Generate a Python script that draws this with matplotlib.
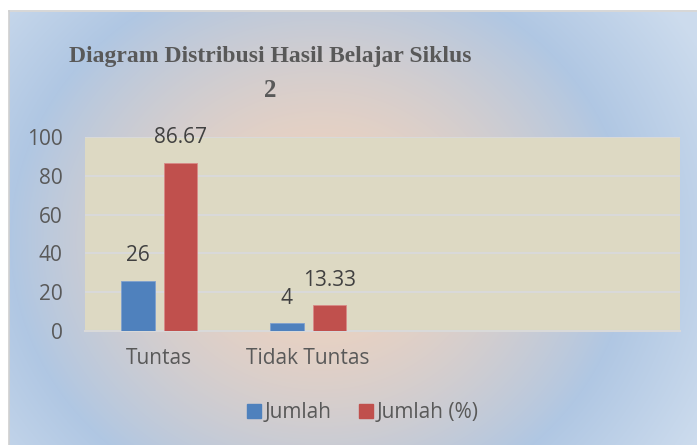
import numpy as np
import matplotlib.pyplot as plt

categories = ["Tuntas", "Tidak Tuntas", "", ""]
jumlah = [26, 4, None, None]
jumlah_pct = [86.67, 13.33, None, None]
y_ticks = [0, 20, 40, 60, 80, 100]

W, H = 697, 445
fig = plt.figure(figsize=(W / 100, H / 100), dpi=100)
fig.patch.set_facecolor("white")

# background: radial gradient from peach centre to blue edges
bg = fig.add_axes([9 / W, 0, 1 - 9 / W, 1 - 12 / H])
bg.set_axis_off()
yy, xx = np.mgrid[12:445, 9:697]
cx, cy, rx, ry = 320, 240, 310, 280
t = np.sqrt(((xx - cx) / rx) ** 2 + ((yy - cy) / ry) ** 2)[..., None]
m = np.clip(t, 0, 1) ** 1.6
peach = np.array([0.95, 0.83, 0.74])
blue = np.array([0.69, 0.78, 0.89])
pale = np.array([0.80, 0.86, 0.93])
img = np.where(t <= 1, peach * (1 - m) + blue * m,
               blue + (pale - blue) * np.clip((t - 1) / 0.4, 0, 1))
bg.imshow(img, aspect="auto", extent=[0, 1, 0, 1], origin="upper")
fig.add_artist(plt.Line2D([9 / W, 9 / W], [0, 1 - 11 / H], color="#D0D0D0", lw=1.2))
fig.add_artist(plt.Line2D([9 / W, 1], [1 - 11 / H, 1 - 11 / H], color="#D0D0D0", lw=1.2))

ax = fig.add_axes([85 / W, 1 - 331 / H, (680 - 85) / W, (331 - 137) / H])
ax.set_facecolor("#DDD9C3")
x = np.arange(len(categories))
w = 0.225
off = 0.1425
fs = 15
for i in range(len(categories)):
    if jumlah[i] is not None:
        ax.bar(x[i] - off, jumlah[i], w, color="#4F81BD", edgecolor="#7FA1CF", lw=0.6, zorder=3)
        ax.annotate(f"{jumlah[i]:g}", (x[i] - off, jumlah[i]), xytext=(0, 18),
                    textcoords="offset points", ha="center", va="center",
                    fontsize=fs, color="#404040", family="Open Sans")
    if jumlah_pct[i] is not None:
        ax.bar(x[i] + off, jumlah_pct[i], w, color="#C0504D", edgecolor="#D88A88", lw=0.6, zorder=3)
        ax.annotate(f"{jumlah_pct[i]:.2f}", (x[i] + off, jumlah_pct[i]), xytext=(0, 18),
                    textcoords="offset points", ha="center", va="center",
                    fontsize=fs, color="#404040", family="Open Sans")

ax.set_xlim(-0.5, len(categories) - 0.5)
ax.set_ylim(0, 100)
ax.set_yticks(y_ticks)
ax.set_xticks(x)
ax.set_xticklabels(categories)
ax.yaxis.grid(True, color="#D9D9D9", lw=1.5, zorder=1)
ax.set_axisbelow(True)
for s in ["top", "right", "left"]:
    ax.spines[s].set_visible(False)
ax.spines["bottom"].set_color("#D9D9D9")
ax.spines["bottom"].set_linewidth(1.5)
ax.tick_params(axis="both", length=0, labelsize=fs, labelcolor="#595959")
ax.tick_params(axis="x", pad=12)
ax.tick_params(axis="y", pad=16)
for lab in ax.get_xticklabels() + ax.get_yticklabels():
    lab.set_family("Open Sans")

fig.text(270 / W, 1 - 62 / H, "Diagram Distribusi Hasil Belajar Siklus", ha="center",
         va="baseline", fontsize=17, fontweight="bold", family="Liberation Serif",
         color="#595959")
fig.text(270 / W, 1 - 97 / H, "2", ha="center", va="baseline", fontsize=18,
         fontweight="bold", family="Liberation Serif", color="#595959")

handles = [plt.Rectangle((0, 0), 1, 1, color="#4F81BD"),
           plt.Rectangle((0, 0), 1, 1, color="#C0504D")]
fig.legend(handles, ["Jumlah", "Jumlah (%)"], loc="center",
           bbox_to_anchor=(363 / W, 1 - 413 / H), ncol=2, frameon=False,
           handlelength=0.65, handleheight=0.65, handletextpad=0.2,
           columnspacing=1.3, prop={"family": "Open Sans", "size": fs},
           labelcolor="#595959")

fig.savefig("out.png", dpi=100)
